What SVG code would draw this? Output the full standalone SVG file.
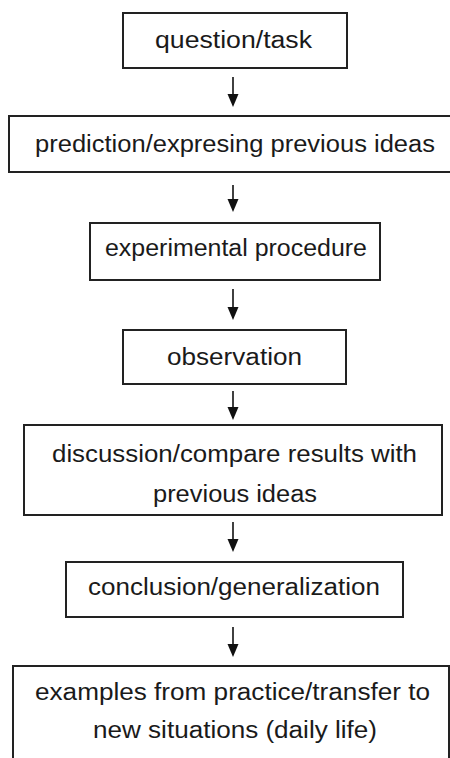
<svg xmlns="http://www.w3.org/2000/svg" width="450" height="758" viewBox="0 0 450 758">
<style>
.box{fill:#fff;stroke:#222;stroke-width:2}
.t{font-family:"Liberation Sans",Arial,sans-serif;font-size:23px;fill:#1a1a1a;text-anchor:middle}
.c{stroke:#111;stroke-width:1.6;fill:none}
</style>
<defs>
<marker id="ah" markerWidth="10" markerHeight="12" refX="5" refY="12" orient="auto-start-reverse" markerUnits="userSpaceOnUse" viewBox="0 0 10 12">
<path d="M0,0 L10,0 L5,12 Z" fill="#111" transform="rotate(0)"/>
</marker>
</defs>
<rect width="450" height="758" fill="#fff"/>
<g id="connectors">
<path class="c" d="M233,77 V95"/><path d="M227.5,94 L238.5,94 L233,107 Z" fill="#111"/>
<path class="c" d="M233,185 V200"/><path d="M227.5,199 L238.5,199 L233,212 Z" fill="#111"/>
<path class="c" d="M233,289 V308"/><path d="M227.5,307 L238.5,307 L233,320 Z" fill="#111"/>
<path class="c" d="M233,391 V408"/><path d="M227.5,407 L238.5,407 L233,420 Z" fill="#111"/>
<path class="c" d="M233,522 V540"/><path d="M227.5,539 L238.5,539 L233,552 Z" fill="#111"/>
<path class="c" d="M233,627 V645"/><path d="M227.5,644 L238.5,644 L233,657 Z" fill="#111"/>
</g>
<g id="n1"><rect class="box" x="123" y="13" width="224" height="55"/><text class="t" x="233.5" y="48" textLength="157" lengthAdjust="spacingAndGlyphs">question/task</text></g>
<g id="n2"><rect class="box" x="9" y="116" width="445" height="56"/><text class="t" x="235" y="152" textLength="400" lengthAdjust="spacingAndGlyphs">prediction/expresing previous ideas</text></g>
<g id="n3"><rect class="box" x="90" y="223" width="290" height="57"/><text class="t" x="236" y="256" textLength="262" lengthAdjust="spacingAndGlyphs">experimental procedure</text></g>
<g id="n4"><rect class="box" x="123" y="330" width="223" height="54"/><text class="t" x="234.5" y="365" textLength="135" lengthAdjust="spacingAndGlyphs">observation</text></g>
<g id="n5"><rect class="box" x="24" y="425" width="418" height="90"/><text class="t" x="234.5" y="462" textLength="365" lengthAdjust="spacingAndGlyphs">discussion/compare results with</text><text class="t" x="235" y="502" textLength="164" lengthAdjust="spacingAndGlyphs">previous ideas</text></g>
<g id="n6"><rect class="box" x="66" y="562" width="337" height="55"/><text class="t" x="234" y="595" textLength="292" lengthAdjust="spacingAndGlyphs">conclusion/generalization</text></g>
<g id="n7"><rect class="box" x="13" y="666" width="436" height="110"/><text class="t" x="232.5" y="700" textLength="395" lengthAdjust="spacingAndGlyphs">examples from practice/transfer to</text><text class="t" x="235" y="738" textLength="284" lengthAdjust="spacingAndGlyphs">new situations (daily life)</text></g>
</svg>
